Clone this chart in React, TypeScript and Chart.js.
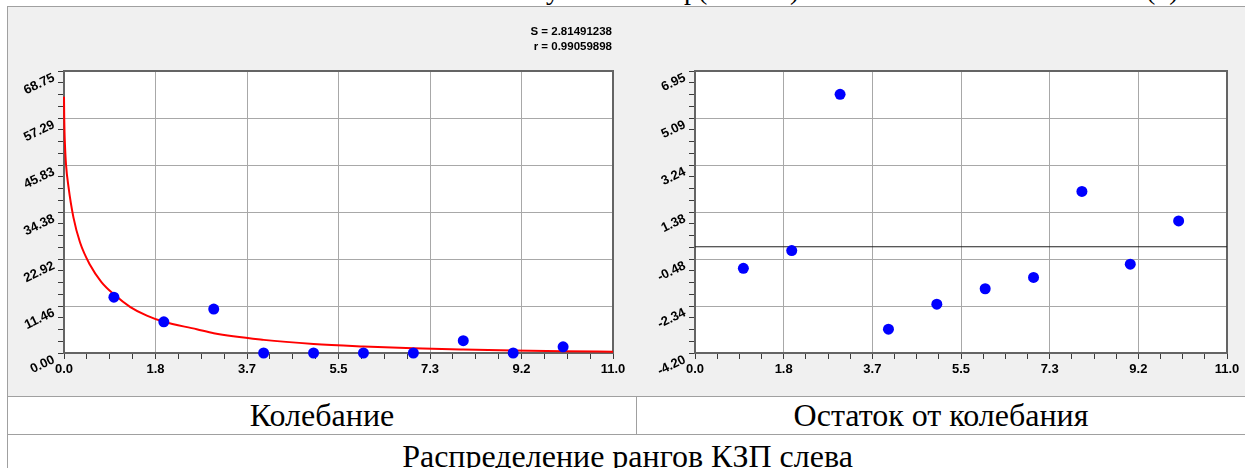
import React, { useEffect, useRef } from 'react';
import { Chart, registerables } from 'chart.js';

Chart.register(...registerables);

// ---- data ----
const X_VALUES = [1, 2, 3, 4, 5, 6, 7, 8, 9, 10];
const OSCILLATION = [13.6, 7.6, 10.7, 0, 0, 0, 0, 3.0, 0, 1.5];
const RESIDUALS = [-0.85, -0.15, 6.03, -3.26, -2.27, -1.66, -1.21, 2.19, -0.69, 1.02];
const FIT_X = [0, 0.005, 0.01, 0.02, 0.04, 0.09, 0.19, 0.32, 0.52, 0.75, 1, 1.33, 1.66, 2, 2.66, 3, 4, 5, 6, 7, 8, 9, 10, 11];
const FIT_Y = [62.5, 57, 54, 50.5, 46, 40.5, 33, 27, 21.5, 17.3, 14.3, 11.2, 9.1, 7.6, 5.8, 4.8, 3.2, 2.2, 1.6, 1.15, 0.85, 0.62, 0.45, 0.32];
const X_TICK_LABELS = ['0.0', '1.8', '3.7', '5.5', '7.3', '9.2', '11.0'];
const OSC_Y_TICK_LABELS = ['0.00', '11.46', '22.92', '34.38', '45.83', '57.29', '68.75'];
const RES_Y_TICK_LABELS = ['-4.20', '-2.34', '-0.48', '1.38', '3.24', '5.09', '6.95'];
const STATS_LINES = ['S = 2.81491238', 'r = 0.99059898'];
const ZERO_LEVEL = 0;
const CAPTION_LEFT = 'Колебание';
const CAPTION_RIGHT = 'Остаток от колебания';
const CAPTION_BOTTOM = 'Распределение рангов КЗП слева';
const TITLE_FRAGMENTS = ['у', 'р(', ')', '(1)'];

const MINOR_PER_MAJOR = 4;
const GRID_COLOR = '#a8a8a8';
const TICK_COLOR = '#3a3a3a';
const FRAME_COLOR = '#646464';
const LABEL_FONT = { family: '"Liberation Sans", Arial, sans-serif', weight: 'bold' as const, size: 13 };

function tickValues(labels: string[]) {
  const min = parseFloat(labels[0]);
  const max = parseFloat(labels[labels.length - 1]);
  const n = (labels.length - 1) * MINOR_PER_MAJOR;
  const out: number[] = [];
  for (let i = 0; i <= n; i++) out.push(min + ((max - min) * i) / n);
  return out;
}

function axis(labels: string[], isY: boolean, size: number) {
  const values = tickValues(labels);
  return {
    type: 'linear' as const,
    position: isY ? ('left' as const) : ('bottom' as const),
    min: values[0],
    max: values[values.length - 1],
    afterBuildTicks: (scale: any) => {
      scale.ticks = values.map((v) => ({ value: v }));
    },
    afterFit: (scale: any) => {
      if (isY) scale.width = size;
      else scale.height = size;
    },
    border: { display: false },
    grid: {
      color: (ctx: any) => (ctx.index % MINOR_PER_MAJOR === 0 ? GRID_COLOR : 'rgba(0,0,0,0)'),
      lineWidth: 1,
      tickColor: TICK_COLOR,
      tickLength: 6,
      tickWidth: 1,
    },
    ticks: {
      autoSkip: false,
      callback: (_v: any, i: number) => (i % MINOR_PER_MAJOR === 0 ? labels[i / MINOR_PER_MAJOR] : ''),
      font: LABEL_FONT,
      color: '#000',
      padding: isY ? 4 : 3,
      minRotation: isY ? 26 : 0,
      maxRotation: isY ? 50 : 0,
      labelOffset: isY ? 6 : 0,
    },
  };
}

const framePlugin = {
  id: 'frame',
  beforeDraw(chart: any) {
    const { ctx, chartArea: a } = chart;
    ctx.save();
    ctx.fillStyle = '#ffffff';
    ctx.fillRect(a.left, a.top, a.right - a.left, a.bottom - a.top);
    ctx.restore();
  },
  beforeDatasetsDraw(chart: any) {
    const { ctx, chartArea: a } = chart;
    ctx.save();
    ctx.strokeStyle = FRAME_COLOR;
    ctx.lineWidth = 2;
    ctx.strokeRect(a.left, a.top, a.right - a.left, a.bottom - a.top);
    ctx.restore();
  },
};

const statsPlugin = {
  id: 'stats',
  afterDraw(chart: any) {
    const { ctx, chartArea: a } = chart;
    ctx.save();
    ctx.font = 'bold 11.5px "Liberation Sans", Arial, sans-serif';
    ctx.fillStyle = '#000';
    ctx.textAlign = 'right';
    ctx.textBaseline = 'middle';
    STATS_LINES.forEach((line, i) => ctx.fillText(line, a.right - 1, a.top - 39 + i * 15));
    ctx.restore();
  },
};

const PT_COLOR = '#0000ff';

function OscillationChart() {
  const ref = useRef<HTMLCanvasElement>(null);
  useEffect(() => {
    const chart = new Chart(ref.current as HTMLCanvasElement, {
      type: 'scatter',
      data: {
        datasets: [
          {
            data: X_VALUES.map((x, i) => ({ x, y: OSCILLATION[i] })),
            backgroundColor: PT_COLOR,
            borderWidth: 0,
            pointRadius: 5.5,
            clip: false,
          } as any,
          {
            data: FIT_X.map((x, i) => ({ x, y: FIT_Y[i] })),
            showLine: true,
            borderColor: '#ff0000',
            borderWidth: 2,
            pointRadius: 0,
            cubicInterpolationMode: 'monotone',
            clip: false,
          } as any,
        ],
      },
      options: {
        animation: false,
        responsive: false,
        devicePixelRatio: 1,
        layout: { padding: { left: 0, top: 65, right: 17, bottom: 0 } },
        plugins: { legend: { display: false }, tooltip: { enabled: false } },
        scales: {
          x: axis(X_TICK_LABELS, false, 44) as any,
          y: axis(OSC_Y_TICK_LABELS, true, 56) as any,
        },
      },
      plugins: [framePlugin, statsPlugin],
    });
    return () => chart.destroy();
  }, []);
  return <canvas ref={ref} width={622} height={391} style={{ position: 'absolute', left: 8, top: 6, width: 622, height: 391 }} />;
}

function ResidualChart() {
  const ref = useRef<HTMLCanvasElement>(null);
  useEffect(() => {
    const xs = tickValues(X_TICK_LABELS);
    const chart = new Chart(ref.current as HTMLCanvasElement, {
      type: 'scatter',
      data: {
        datasets: [
          {
            data: X_VALUES.map((x, i) => ({ x, y: RESIDUALS[i] })),
            backgroundColor: PT_COLOR,
            borderWidth: 0,
            pointRadius: 5.5,
            clip: false,
          } as any,
          {
            data: [
              { x: xs[0], y: ZERO_LEVEL },
              { x: xs[xs.length - 1], y: ZERO_LEVEL },
            ],
            showLine: true,
            borderColor: '#202020',
            borderWidth: 1,
            pointRadius: 0,
          } as any,
        ],
      },
      options: {
        animation: false,
        responsive: false,
        devicePixelRatio: 1,
        layout: { padding: { left: 0, top: 65, right: 18, bottom: 0 } },
        plugins: { legend: { display: false }, tooltip: { enabled: false } },
        scales: {
          x: axis(X_TICK_LABELS, false, 44) as any,
          y: axis(RES_Y_TICK_LABELS, true, 60) as any,
        },
      },
      plugins: [framePlugin],
    });
    return () => chart.destroy();
  }, []);
  return <canvas ref={ref} width={610} height={391} style={{ position: 'absolute', left: 635, top: 6, width: 610, height: 391 }} />;
}

const SERIF = '"Liberation Serif", "Times New Roman", serif';
const LINE = '1px solid #a0a0a0';
const FRAG_LEFT = [546, 684, 790, 1146];

export default function App() {
  return (
    <div style={{ position: 'fixed', left: 0, top: 0, width: 1245, height: 468, overflow: 'hidden', background: '#fff' }}>
      <div style={{ position: 'absolute', left: 0, top: -24, height: 30, width: 1245, font: `28px ${SERIF}`, lineHeight: '28px', whiteSpace: 'nowrap', color: '#000' }}>
        {TITLE_FRAGMENTS.map((t, i) => (
          <span key={i} style={{ position: 'absolute', left: FRAG_LEFT[i], top: 0 }}>{t}</span>
        ))}
      </div>
      <div style={{ position: 'absolute', left: 7, top: 6, width: 1260, height: 389, background: '#f0f0f0', borderTop: LINE, borderLeft: LINE, borderBottom: LINE }} />
      <OscillationChart />
      <ResidualChart />
      <div style={{ position: 'absolute', left: 7, top: 397, width: 628, height: 37, borderLeft: LINE, borderRight: LINE, borderBottom: LINE, font: `32px ${SERIF}`, lineHeight: '37px', textAlign: 'center', color: '#000' }}>
        {CAPTION_LEFT}
      </div>
      <div style={{ position: 'absolute', left: 636, top: 397, width: 610, height: 37, borderBottom: LINE, font: `32px ${SERIF}`, lineHeight: '37px', textAlign: 'center', color: '#000' }}>
        {CAPTION_RIGHT}
      </div>
      <div style={{ position: 'absolute', left: 7, top: 435, width: 1239, height: 42, borderLeft: LINE, font: `32px ${SERIF}`, lineHeight: '42px', textAlign: 'center', color: '#000' }}>
        {CAPTION_BOTTOM}
      </div>
    </div>
  );
}
